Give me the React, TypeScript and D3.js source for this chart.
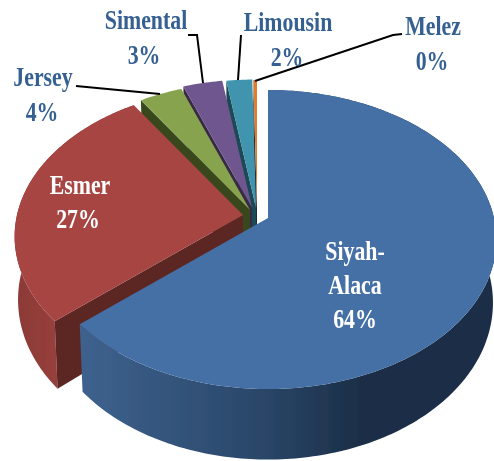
import React from "react";
import * as d3 from "d3";

const breeds = ["Siyah-Alaca", "Esmer", "Jersey", "Simental", "Limousin", "Melez"];
const shares = [63.6, 27.3, 3.5, 3.2, 2.1, 0.3];
const shareLabels = ["64%", "27%", "4%", "3%", "2%", "0%"];
const topColors = ["#4470a5", "#a64542", "#88a34d", "#70578f", "#3f94ad", "#e07b2e"];
const wallColors = ["#2b4a70", "#5c2523", "#39471f", "#372b47", "#1f4a57", "#1f2a3a"];

// layout
const W = 494, H = 461;
const RX = 226, SY = 146.4, K = 0.144;
const apexes: [number, number][] = [[268, 218], [243, 215], [250, 210], [252, 207.5], [256, 207.5], [257, 208]];
const labelBlue = "#366092";

type P = [number, number];
const project = (apex: P, a: number, r = 1): P => {
  const u = Math.sin(a) * r, v = Math.cos(a) * r;
  const den = 1 + K * v;
  return [apex[0] + (RX * u) / den, apex[1] - (SY * v) / den];
};
const drop = (apex: P, p: P, a: number): P => {
  const v = Math.cos(a);
  return [apex[0] + (p[0] - apex[0]) * 0.985, p[1] + 62 - 8.5 * v];
};
const line = d3.line<P>().x(d => d[0]).y(d => d[1]);
const pieGen = d3.pie<number>().sort(null).startAngle(0).endAngle(2 * Math.PI);

const anglesOf = (a0: number, a1: number) => {
  const n = Math.max(2, Math.ceil(((a1 - a0) * 180) / Math.PI));
  return d3.range(n + 1).map(i => a0 + ((a1 - a0) * i) / n);
};

const labels = [
  { t: breeds[2], x: 43, y: 86, fill: labelBlue },
  { t: shareLabels[2], x: 42, y: 120.5, fill: labelBlue },
  { t: breeds[3], x: 146, y: 29, fill: labelBlue },
  { t: shareLabels[3], x: 144, y: 64, fill: labelBlue },
  { t: breeds[4], x: 288, y: 31, fill: labelBlue },
  { t: shareLabels[4], x: 287, y: 65.5, fill: labelBlue },
  { t: breeds[5], x: 433, y: 35, fill: labelBlue },
  { t: shareLabels[5], x: 432, y: 70, fill: labelBlue },
  { t: breeds[1], x: 80, y: 194, fill: "#ffffff" },
  { t: shareLabels[1], x: 78, y: 228, fill: "#ffffff" },
  { t: "Siyah-", x: 355, y: 260, fill: "#ffffff" },
  { t: "Alaca", x: 355, y: 294, fill: "#ffffff" },
  { t: shareLabels[0], x: 355, y: 328, fill: "#ffffff" },
];
const leaders: P[][] = [
  [[76, 86], [160, 94]],
  [[188, 35], [197, 35], [203, 83]],
  [[241, 35], [238, 80]],
  [[402, 34], [393, 35], [255, 81]],
];

export default function App() {
  const arcs = pieGen(shares);
  const order = [5, 4, 3, 2, 1, 0];
  return (
    <svg width={W} height={H} viewBox={`0 0 ${W} ${H}`} style={{ position: "fixed", left: 0, top: 0, background: "#fff" }}>
      <defs>
        <linearGradient id="blueSide" gradientUnits="userSpaceOnUse" x1="80" x2="360" y1="0" y2="0">
          <stop offset="0" stopColor="#3d628e" />
          <stop offset="0.65" stopColor="#2a4669" />
          <stop offset="1" stopColor="#1b2f47" />
        </linearGradient>
        <linearGradient id="redSide" gradientUnits="userSpaceOnUse" x1="16" x2="60" y1="0" y2="0">
          <stop offset="0" stopColor="#8c3a36" />
          <stop offset="1" stopColor="#97403c" />
        </linearGradient>
        <filter id="soft" x="-5%" y="-5%" width="110%" height="110%">
          <feGaussianBlur stdDeviation="0.5" />
        </filter>
      </defs>
      <g filter="url(#soft)">
        {order.map(i => {
          const d = arcs[i];
          const apex = apexes[i];
          const as = anglesOf(d.startAngle, d.endAngle);
          const top = as.map(a => project(apex, a));
          const apexDrop: P = [apex[0], apex[1] + 62];
          const wall: P[] = [apex, top[0], drop(apex, top[0], d.startAngle), apexDrop];
          const side: P[] = [...top, ...top.map((p, j) => drop(apex, p, as[j])).reverse()];
          return (
            <g key={breeds[i]}>
              {i < 2 ? <path d={line(side)! + "Z"} fill={i === 0 ? "url(#blueSide)" : "url(#redSide)"} /> : null}
              {i > 0 ? <path d={line(wall)! + "Z"} fill={wallColors[i]} /> : null}
              <path d={line([apex, ...top])! + "Z"} fill={topColors[i]} />
            </g>
          );
        })}
        {leaders.map((l, i) => (
          <path key={i} d={line(l)!} fill="none" stroke="#000" strokeWidth={2} />
        ))}
        {labels.map(l => (
          <text
            key={l.t}
            transform={`translate(${l.x},${l.y}) scale(0.78,1)`}
            textAnchor="middle"
            fontFamily="'Liberation Serif'"
            fontWeight="bold"
            fontSize={28}
            fill={l.fill}
          >
            {l.t}
          </text>
        ))}
      </g>
    </svg>
  );
}
